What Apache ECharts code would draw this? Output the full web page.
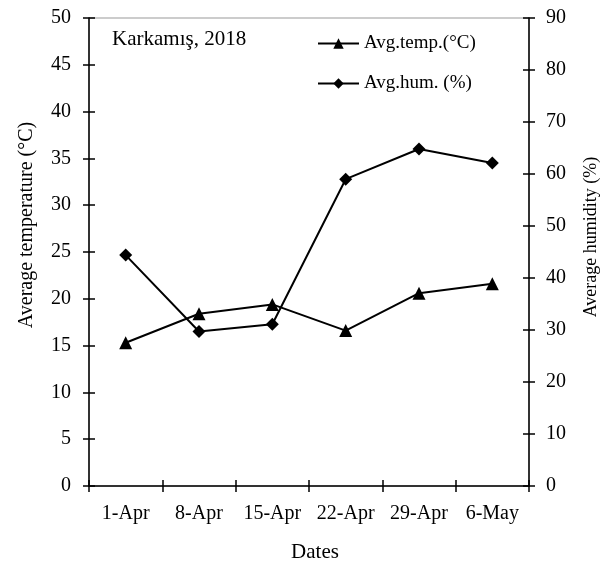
<!DOCTYPE html>
<html><head><meta charset="utf-8">
<script src="https://cdn.jsdelivr.net/npm/echarts@6/dist/echarts.min.js"></script>
<style>html,body{margin:0;padding:0;background:#fff}#c{width:607px;height:561px}</style>
</head><body><div id="c"></div>
<script>
const categories = ['1-Apr','8-Apr','15-Apr','22-Apr','29-Apr','6-May'];
const avgTemp = [15.3, 18.4, 19.4, 16.6, 20.6, 21.6];
const avgHum = [44.4, 29.7, 31.1, 59.0, 64.8, 62.1];
const tempTicks = {min:0, max:50, interval:5};
const humTicks = {min:0, max:90, interval:10};

const FONT = 'Liberation Serif';
const chart = echarts.init(document.getElementById('c'));
const lineStyle = {color:'#000', width:2};
const tickStyle = {color:'#000', width:1.5};
chart.setOption({
  animation:false,
  textStyle:{fontFamily:FONT, color:'#000'},
  legend:{orient:'vertical', left:312, top:29, itemWidth:41, itemHeight:13, itemGap:21, itemTextGap:4,
    textStyle:{fontFamily:FONT, fontSize:19, color:'#000'},
    data:['Avg.temp.(°C)','Avg.hum. (%)']},
  grid:{left:89, right:78, top:18, bottom:75, show:true, borderColor:'#999', borderWidth:1},
  graphic:[
    {type:'text', left:112, top:29, style:{text:'Karkamış, 2018', font:'21px "Liberation Serif"', fill:'#000'}},
    {type:'text', x:315, y:552, style:{text:'Dates', font:'21px "Liberation Serif"', fill:'#000', align:'center', verticalAlign:'middle'}},
    {type:'text', x:27, y:225, rotation:Math.PI/2, style:{text:'Average temperature (°C)', font:'20px "Liberation Serif"', fill:'#000', align:'center', verticalAlign:'middle'}},
    {type:'text', x:591, y:237, rotation:Math.PI/2, style:{text:'Average humidity (%)', font:'18px "Liberation Serif"', fill:'#000', align:'center', verticalAlign:'middle'}}
  ],
  xAxis:[
    {type:'category', data:categories, boundaryGap:true,
     axisLine:{lineStyle:{color:'#000', width:1.5}},
     axisTick:{show:true, inside:false, length:6, lineStyle:tickStyle},
     axisLabel:{fontFamily:FONT, fontSize:20, color:'#000', margin:18, interval:0, hideOverlap:false}},
    {type:'category', data:categories, position:'bottom', boundaryGap:true,
     axisLine:{show:false}, axisLabel:{show:false},
     axisTick:{show:true, inside:true, length:6, lineStyle:tickStyle}}
  ],
  yAxis:[
    {type:'value', min:tempTicks.min, max:tempTicks.max, interval:tempTicks.interval, position:'left',
     splitLine:{show:false},
     axisLine:{show:true, lineStyle:{color:'#000', width:1.5}},
     axisTick:{show:true, inside:false, length:6, lineStyle:tickStyle},
     axisLabel:{fontFamily:FONT, fontSize:20, color:'#000', margin:18}},
    {type:'value', min:humTicks.min, max:humTicks.max, interval:humTicks.interval, position:'right',
     splitLine:{show:false},
     axisLine:{show:true, lineStyle:{color:'#000', width:1.5}},
     axisTick:{show:true, inside:false, length:6, lineStyle:tickStyle},
     axisLabel:{fontFamily:FONT, fontSize:20, color:'#000', margin:17}},
    {type:'value', min:tempTicks.min, max:tempTicks.max, interval:tempTicks.interval, position:'left',
     splitLine:{show:false}, axisLine:{show:false}, axisLabel:{show:false},
     axisTick:{show:true, inside:true, length:6, lineStyle:tickStyle}},
    {type:'value', min:humTicks.min, max:humTicks.max, interval:humTicks.interval, position:'right',
     splitLine:{show:false}, axisLine:{show:false}, axisLabel:{show:false},
     axisTick:{show:true, inside:true, length:6, lineStyle:tickStyle}}
  ],
  series:[
    {name:'Avg.temp.(°C)', type:'line', data:avgTemp, yAxisIndex:0, xAxisIndex:0,
     symbol:'triangle', symbolSize:13, showAllSymbol:true,
     itemStyle:{color:'#000'}, lineStyle:lineStyle},
    {name:'Avg.hum. (%)', type:'line', data:avgHum, yAxisIndex:1, xAxisIndex:0,
     symbol:'diamond', symbolSize:13, showAllSymbol:true,
     itemStyle:{color:'#000'}, lineStyle:lineStyle}
  ]
});
</script></body></html>
